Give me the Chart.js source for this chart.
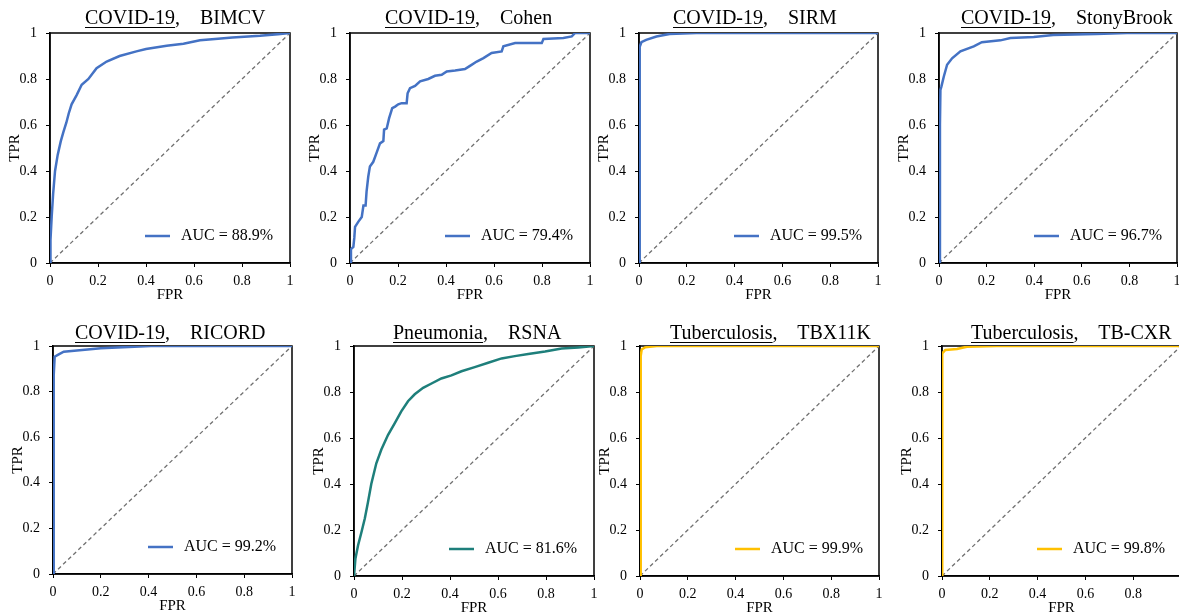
<!DOCTYPE html>
<html>
<head>
<meta charset="utf-8">
<script src="https://cdn.jsdelivr.net/npm/chart.js@4.4.1/dist/chart.umd.min.js"></script>
<style>
  body { margin: 0; width: 1179px; height: 616px; overflow: hidden; background: #fff; position: relative; font-family: 'Liberation Serif', serif; }
  canvas { position: absolute; }
  .ttl { position: absolute; font-size: 20px; line-height: 20px; white-space: pre; color: #000; }
  .ttl u { text-decoration-thickness: 1px; text-underline-offset: 3px; }
</style>
</head>
<body>
<script>
// ROC points (FPR, TPR)
let bimcvFpr = [0, 0.002, 0.007, 0.013, 0.021, 0.032, 0.045, 0.056, 0.068, 0.078, 0.09, 0.111, 0.132, 0.16, 0.194, 0.236, 0.29, 0.36, 0.40, 0.486, 0.556, 0.625, 0.70, 0.76, 0.875, 0.95, 1];
let bimcvTpr = [0, 0.10, 0.20, 0.30, 0.40, 0.47, 0.53, 0.57, 0.61, 0.65, 0.69, 0.73, 0.775, 0.80, 0.847, 0.876, 0.90, 0.92, 0.93, 0.945, 0.953, 0.968, 0.975, 0.98, 0.988, 0.995, 1];

let cohenFpr = [0, 0.004, 0.014, 0.018, 0.021, 0.035, 0.049, 0.056, 0.065, 0.069, 0.076, 0.083, 0.097, 0.111, 0.125, 0.139, 0.142, 0.153, 0.163, 0.176, 0.188, 0.201, 0.215, 0.236, 0.24, 0.25, 0.271, 0.292, 0.326, 0.354, 0.382, 0.403, 0.438, 0.479, 0.50, 0.528, 0.556, 0.59, 0.632, 0.639, 0.688, 0.799, 0.806, 0.889, 0.924, 0.938, 1];
let cohenTpr = [0, 0.06, 0.07, 0.11, 0.157, 0.18, 0.20, 0.25, 0.25, 0.31, 0.375, 0.42, 0.44, 0.48, 0.52, 0.53, 0.58, 0.585, 0.63, 0.673, 0.68, 0.69, 0.695, 0.695, 0.738, 0.76, 0.77, 0.79, 0.80, 0.814, 0.818, 0.833, 0.837, 0.843, 0.857, 0.876, 0.891, 0.913, 0.92, 0.942, 0.956, 0.956, 0.974, 0.978, 0.985, 1, 1];

let sirmFpr = [0, 0.003, 0.01, 0.03, 0.073, 0.128, 0.24, 1];
let sirmTpr = [0, 0.94, 0.96, 0.97, 0.985, 0.996, 1, 1];

let stonyFpr = [0, 0.004, 0.006, 0.01, 0.02, 0.034, 0.055, 0.09, 0.146, 0.18, 0.258, 0.30, 0.398, 0.48, 0.66, 0.79, 1];
let stonyTpr = [0, 0.60, 0.753, 0.767, 0.81, 0.862, 0.89, 0.92, 0.942, 0.96, 0.968, 0.978, 0.983, 0.991, 0.996, 1, 1];

let ricordFpr = [0, 0.002, 0.004, 0.007, 0.024, 0.045, 0.10, 0.20, 0.34, 0.41, 1];
let ricordTpr = [0, 0.80, 0.873, 0.953, 0.963, 0.975, 0.98, 0.99, 0.997, 1, 1];

let rsnaFpr = [0, 0.006, 0.017, 0.031, 0.045, 0.058, 0.072, 0.093, 0.114, 0.142, 0.17, 0.197, 0.225, 0.253, 0.288, 0.323, 0.364, 0.406, 0.448, 0.503, 0.559, 0.615, 0.67, 0.726, 0.796, 0.865, 0.935, 1];
let rsnaTpr = [0, 0.076, 0.134, 0.19, 0.25, 0.32, 0.40, 0.49, 0.55, 0.614, 0.665, 0.716, 0.76, 0.79, 0.818, 0.837, 0.859, 0.872, 0.89, 0.908, 0.927, 0.946, 0.956, 0.965, 0.976, 0.989, 0.994, 1];

let tbx11kFpr = [0, 0.003, 0.007, 0.021, 0.07, 1];
let tbx11kTpr = [0, 0.956, 0.985, 0.994, 1, 1];

let tbcxrFpr = [0, 0.001, 0.014, 0.063, 0.104, 0.23, 1];
let tbcxrTpr = [0, 0.968, 0.983, 0.987, 0.997, 1, 1];

let diagFpr = [0, 1];
let diagTpr = [0, 1];

let diseases = ["COVID-19", "COVID-19", "COVID-19", "COVID-19", "COVID-19", "Pneumonia", "Tuberculosis", "Tuberculosis"];
let datasetNames = ["BIMCV", "Cohen", "SIRM", "StonyBrook", "RICORD", "RSNA", "TBX11K", "TB-CXR"];
let aucLabels = ["AUC = 88.9%", "AUC = 79.4%", "AUC = 99.5%", "AUC = 96.7%", "AUC = 99.2%", "AUC = 81.6%", "AUC = 99.9%", "AUC = 99.8%"];
let tickValues = [0, 0.2, 0.4, 0.6, 0.8, 1];
let tickLabels = ["0", "0.2", "0.4", "0.6", "0.8", "1"];
// last panel is cropped at the right edge, its "1" is not shown
let tickLabelsCropped = ["0", "0.2", "0.4", "0.6", "0.8", ""];

let fprs = [bimcvFpr, cohenFpr, sirmFpr, stonyFpr, ricordFpr, rsnaFpr, tbx11kFpr, tbcxrFpr];
let tprs = [bimcvTpr, cohenTpr, sirmTpr, stonyTpr, ricordTpr, rsnaTpr, tbx11kTpr, tbcxrTpr];

// layout: plot box [left, top, right, bottom] and title left/top for each panel
let plotBoxes = [
    [50, 33, 290, 263], [350, 33, 590, 263], [639, 33, 878, 263], [939, 33, 1177, 263],
    [53, 346, 292, 574], [354, 346, 594, 576], [640, 346, 879, 576], [942, 346, 1181, 576]
];
let titlePos = [[85, 7], [385, 7], [673, 7], [961, 7], [75, 322], [393, 322], [670, 322], [971, 322]];
let colors = ["#4472C4", "#4472C4", "#4472C4", "#4472C4", "#4472C4", "#1E7F7B", "#FFC000", "#FFC000"];

const Y_W = 48, X_H = 45, PAD_T = 20, PAD_R = 16;

Chart.defaults.font.family = "'Liberation Serif', 'Times New Roman', serif";
Chart.defaults.font.size = 14;
Chart.defaults.color = "#000";

function toPoints(xs, ys) {
    let arr = [];
    for (let i = 0; i < xs.length; i++) {
        arr.push({x: xs[i], y: ys[i]});
    }
    return arr;
}

const frame = {
    id: "frame",
    beforeDatasetsDraw(chart) {
        let a = chart.chartArea;
        let ctx = chart.ctx;
        ctx.save();
        ctx.strokeStyle = "#000";
        ctx.lineWidth = 1.5;
        ctx.strokeRect(a.left, a.top, a.right - a.left, a.bottom - a.top);
        ctx.restore();
    }
};

const aucLegend = {
    id: "aucLegend",
    afterDatasetsDraw(chart) {
        let a = chart.chartArea;
        let ds = chart.data.datasets[0];
        let ctx = chart.ctx;
        let y = a.bottom - 27;
        ctx.save();
        ctx.strokeStyle = ds.borderColor;
        ctx.lineWidth = 2.5;
        ctx.beginPath();
        ctx.moveTo(a.left + 95, y);
        ctx.lineTo(a.left + 120, y);
        ctx.stroke();
        ctx.fillStyle = "#000";
        ctx.font = "16px 'Liberation Serif'";
        ctx.textBaseline = "middle";
        ctx.fillText(ds.label, a.left + 131, y);
        ctx.restore();
    }
};

function axis(titleText, isX, labels) {
    return {
        type: "linear",
        min: 0,
        max: 1,
        afterBuildTicks: scale => { scale.ticks = tickValues.map(v => ({value: v})); },
        afterFit: scale => { if (isX) scale.height = X_H; else scale.width = Y_W; },
        grid: { display: true, drawOnChartArea: false, drawTicks: true, tickLength: 4, color: "#000", lineWidth: 1 },
        border: { display: true, color: "#000", width: 1.5 },
        ticks: {
            padding: isX ? 6 : 9,
            font: { size: 14 },
            color: "#000",
            maxRotation: 0,
            autoSkip: false,
            callback: (value, index) => labels[index]
        },
        title: { display: true, text: titleText, font: { size: 15 }, color: "#000", padding: { top: 4, bottom: 4 } }
    };
}

function createPanel(i) {
    let b = plotBoxes[i];
    let canvas = document.createElement("canvas");
    let w = (b[2] - b[0]) + Y_W + PAD_R;
    let h = (b[3] - b[1]) + PAD_T + X_H;
    canvas.width = w;
    canvas.height = h;
    canvas.style.left = (b[0] - Y_W) + "px";
    canvas.style.top = (b[1] - PAD_T) + "px";
    canvas.style.width = w + "px";
    canvas.style.height = h + "px";
    document.body.appendChild(canvas);

    let xLabels = i == plotBoxes.length - 1 ? tickLabelsCropped : tickLabels;

    new Chart(canvas, {
        type: "line",
        data: {
            datasets: [{
                label: aucLabels[i],
                data: toPoints(fprs[i], tprs[i]),
                borderColor: colors[i],
                borderWidth: 2.5,
                pointRadius: 0,
                tension: 0,
                fill: false
            }, {
                label: "chance",
                data: toPoints(diagFpr, diagTpr),
                borderColor: "#707070",
                borderWidth: 1.3,
                borderDash: [4, 3],
                pointRadius: 0,
                tension: 0,
                fill: false
            }]
        },
        options: {
            responsive: false,
            animation: false,
            layout: { padding: { top: PAD_T, right: PAD_R, left: 0, bottom: 0 } },
            plugins: { legend: { display: false }, tooltip: { enabled: false } },
            scales: { x: axis("FPR", true, xLabels), y: axis("TPR", false, tickLabels) }
        },
        plugins: [frame, aucLegend]
    });

    let t = document.createElement("div");
    t.className = "ttl";
    t.style.left = titlePos[i][0] + "px";
    t.style.top = titlePos[i][1] + "px";
    let u = document.createElement("u");
    u.textContent = diseases[i];
    t.appendChild(u);
    t.appendChild(document.createTextNode(",    " + datasetNames[i]));
    document.body.appendChild(t);
}

for (let i = 0; i < plotBoxes.length; i++) {
    createPanel(i);
}
</script>
</body>
</html>
